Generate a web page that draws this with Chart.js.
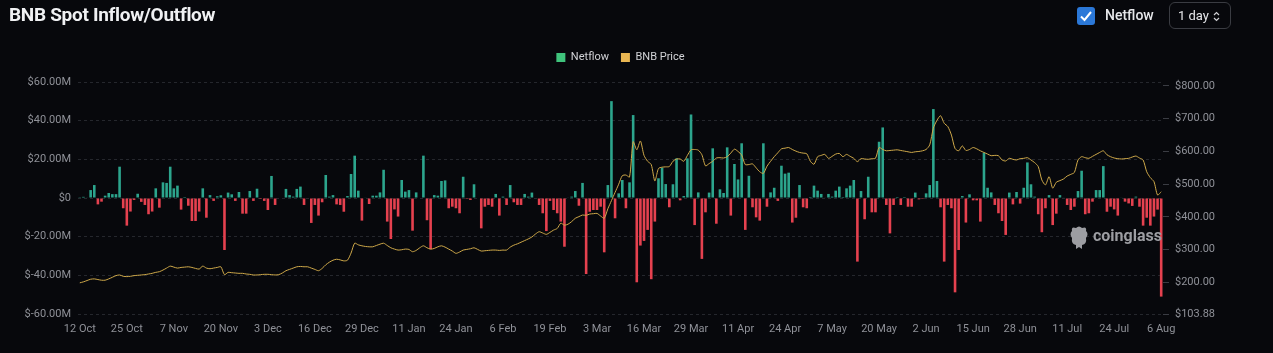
<!DOCTYPE html>
<html>
<head>
<meta charset="utf-8">
<script src="https://cdn.jsdelivr.net/npm/chart.js@4.4.0/dist/chart.umd.min.js"></script>
<style>
  html, body { margin: 0; padding: 0; background: #07080c; }
  body { width: 1273px; height: 353px; position: relative; overflow: hidden; font-family: Roboto, "Noto Sans", sans-serif; }
  #c { position: absolute; left: 0; top: 0; }
  #title { position: absolute; left: 9px; top: 3px; color: #f0f1f3; font: 700 19px Roboto, sans-serif; letter-spacing: -0.3px; }
  #chk { position: absolute; left: 1077px; top: 7px; width: 18px; height: 18px; }
  #nf { position: absolute; left: 1105px; top: 7px; color: #e6e7ea; font: 500 14px Roboto, sans-serif; }
  #sel { position: absolute; left: 1169px; top: 2px; width: 60px; height: 25px; border: 1px solid #3a3c42; border-radius: 6px; box-sizing: content-box; }
  #sel span { position: absolute; left: 8px; top: 5px; color: #e6e7ea; font: 13px Roboto, sans-serif; }
  #sel svg { position: absolute; left: 43px; top: 8px; }
  #wm { position: absolute; left: 1068px; top: 225px; }
  #wm span { position: absolute; left: 25px; top: 1px; color: #9c9da2; font: 700 16px Roboto, sans-serif; }
</style>
</head>
<body>
<canvas id="c" width="1273" height="353"></canvas>
<div id="title">BNB Spot Inflow/Outflow</div>
<div id="chk"><svg width="18" height="18"><rect width="18" height="18" rx="3" fill="#2b78d8"/><path d="M4 9.5 L7.5 13 L14 5" stroke="#fff" stroke-width="2" fill="none"/></svg></div>
<div id="nf">Netflow</div>
<div id="sel"><span>1 day</span><svg width="7" height="11"><path d="M1 4 L3.5 1.5 L6 4 M1 7 L3.5 9.5 L6 7" stroke="#cfd0d4" stroke-width="1.2" fill="none"/></svg></div>
<div id="wm"><svg width="22" height="26"><path d="M4 6 Q3 1 8 3 Q11 0 14 3 Q19 1 18 6 Q21 9 18 13 Q19 19 14 20 L14 24 L11 22 L8 24 L8 20 Q3 19 4 13 Q1 9 4 6 Z" fill="#9c9da2"/></svg><span>coinglass</span></div>
<script>
// daily netflow, millions USD, from 12 Oct
const netflow = [
  0.4, 0.6, 0.3, 4.1, 6.7, -3.3, -1.9, 1.2, 2.6, 2,
  2, 16.2, -5.3, -14.3, -7, -1, 2.2, -2, -3.6, -8.4,
  -7, 5, -5, 8.1, 7.8, 16.2, 5, 6.4, -6, 0.5,
  -4, -11.9, -11.9, -7, 5, -10.2, 1.5, -1.5, 0.9, 1.4,
  -26.9, 2.8, 1.9, -1.5, 3.1, -8.1, -8.1, 3.6, -1.5, 4.8,
  -0.5, -1.5, -6.2, 11.4, -3.6, 0, 0, 4.7, 1.5, 0.7,
  4.7, 5.9, -3.6, 0, -12.9, -3.6, -9.1, -2.2, 11.9, 0.7,
  1.5, -3.3, -3.6, -7.1, 1, 12.4, 21.9, 3.8, -11.7, 0.3,
  -3.1, 1.2, 1.2, 2.9, 14.6, -12.2, -21.2, -5.9, -9.6, 9.3,
  3.3, 4.1, -16.9, 2.9, 0, 21.9, -11.5, -26.5, 1.5, 1.2,
  8.8, 9.1, -5.3, -4.5, -5.3, -7.9, 11, -0.5, -1, 7.1,
  0, -15.7, -4.5, -3.6, -4.5, 2.1, -9.1, 0.7, -3.6, 6.7,
  -2.2, -3.6, -3.6, 2.1, 0.7, 2.8, 0, -3.6, -7.9, -17.1,
  -1.5, -6.2, -7.9, -12.2, -25.2, 0.3, 0.7, 3.6, -4, 7.8,
  -39.3, -7.1, -6.2, -6.2, -4.5, -28.1, 6.7, 50.1, -10.5, 2.4,
  9.3, -5.3, 8.1, 42.9, -43.6, -24.6, -22.2, -16.5, -42, -12.2,
  10.2, 15.7, 7.2, -4.8, 7.1, 20.5, -1.2, 1, 20.5, 43.2,
  -14, 2.9, -31.5, -7.4, 2.8, 25.7, -13.3, 4.5, 2.6, 26.2,
  -9.1, 17.6, 9.6, 28.3, -16.5, 11.5, -4.8, -10, -11.7, 28.3,
  -4.5, 2.9, 5.3, -1.5, 16.7, 12.6, 13.1, -12.7, -10.2, 6.7,
  -4.8, -5.3, 0.5, 6.4, 3.8, 2.1, 0.3, 2.1, 0.7, 3.8,
  5.9, 0.5, 5, 6.4, 9.3, -32.9, 3.6, -11, 11, -7.4,
  -7.4, 29.1, 36.5, -3.6, -18.3, -3.6, 0.5, -3.6, 0.5, -4.5,
  -4.5, 2.8, -0.7, -0.5, 2.4, 6.7, 46, 8.8, -4.8, -32.9,
  -3.6, -5.3, -48.8, -26.9, 1, -12.7, 1.9, -1.2, -1.2, -12.2,
  23.4, 5.3, 2.9, -3.6, -7.9, -11.9, -19.1, 2.8, -3.3, 3.1,
  -2.9, 5.3, 18.4, 7.1, 0.7, -8.4, -17.7, -5.3, 1.5, -14,
  -8.1, 1.5, 0.3, -3.6, -6.2, -4.5, 3.6, 14.1, -8.4, -7.9,
  -1.9, 4.1, 4.1, 16.5, -7.1, -4.5, -5.9, -9.1, 0.3, -1.9,
  -2.8, -4.1, 0.7, -4.5, -14.3, -10.2, -14.3, -9.6, -6, -51
];

// BNB price, USD
const price = [
  199, 202, 206, 210, 211, 209, 207, 207, 211, 216,
  221, 223, 219, 218, 219, 221, 222, 223, 224, 226,
  228, 231, 233, 238, 244, 250, 247, 244, 246, 247,
  248, 246, 243, 241, 250, 244, 242, 244, 246, 248,
  224, 231, 230, 229, 228, 228, 226, 225, 223, 223,
  224, 225, 225, 224, 223, 224, 229, 236, 240, 244,
  248, 249, 248, 248, 244, 240, 236, 243, 254, 262,
  268, 271, 269, 266, 268, 290, 320, 315, 312, 310,
  309, 309, 313, 317, 320, 313, 306, 302, 299, 300,
  302, 301, 294, 298, 306, 312, 306, 302, 304, 309,
  312, 308, 302, 296, 289, 293, 299, 301, 303, 306,
  301, 296, 297, 298, 299, 299, 298, 299, 299, 308,
  314, 318, 323, 328, 333, 339, 348, 355, 351, 347,
  353, 360, 365, 381, 375, 378, 386, 396, 401, 406,
  405, 409, 410, 411, 403, 396, 425, 450, 475, 500,
  526, 528, 522, 630, 605, 632, 588, 570, 560, 510,
  548, 552, 553, 554, 570, 577, 577, 570, 588, 605,
  606, 604, 590, 556, 563, 570, 580, 581, 580, 584,
  595, 607, 600, 589, 560, 560, 562, 550, 538, 533,
  555, 570, 584, 596, 608, 610, 612, 606, 601, 597,
  595, 593, 570, 561, 584, 588, 591, 579, 585, 592,
  594, 584, 591, 585, 579, 569, 578, 577, 576, 578,
  579, 612, 606, 602, 603, 604, 605, 603, 601, 599,
  597, 599, 600, 602, 606, 620, 671, 695, 709, 686,
  676, 650, 609, 602, 617, 603, 606, 612, 608, 602,
  597, 592, 587, 588, 587, 574, 571, 579, 576, 574,
  578, 579, 581, 574, 566, 554, 513, 498, 523, 488,
  506, 511, 516, 525, 530, 536, 574, 584, 581, 579,
  585, 591, 597, 602, 590, 584, 580, 578, 577, 578,
  579, 583, 586, 580, 574, 538, 520, 508, 467, 477
];

const priceTicks = [103.88, 200, 300, 400, 500, 600, 700, 800];
const monthNames = ["Jan", "Feb", "Mar", "Apr", "May", "Jun", "Jul", "Aug", "Sep", "Oct", "Nov", "Dec"];

let labels = [];
for (let i = 0; i < netflow.length; i++) {
  let d = new Date(2023, 9, 12 + i);
  labels.push(d.getDate() + " " + monthNames[d.getMonth()]);
}

const green = "#2ca58d";
const red = "#e5414f";
const gold = "#cfa94a";
const tickColor = "#8f9198";
const gridColor = "#25272d";

// extra space under the legend
const legendGap = {
  id: 'legendGap',
  beforeInit(chart) {
    const fit = chart.legend.fit;
    chart.legend.fit = function() {
      fit.call(this);
      this.height += 9;
    };
  }
};

let data = {
  labels: labels,
  datasets: [
    {
      type: 'line',
      label: 'BNB Price',
      data: price,
      yAxisID: 'yPrice',
      borderColor: gold,
      backgroundColor: gold,
      borderWidth: 1,
      pointRadius: 0,
      tension: 0.25,
      order: 0
    },
    {
      type: 'bar',
      label: 'Netflow',
      data: netflow,
      yAxisID: 'yFlow',
      backgroundColor: netflow.map(v => v >= 0 ? green : red),
      categoryPercentage: 0.8,
      barPercentage: 0.9,
      order: 1
    }
  ]
};

const config = {
  data: data,
  plugins: [legendGap],
  options: {
    responsive: false,
    animation: false,
    devicePixelRatio: 1,
    layout: { padding: { top: 40, left: 0, right: 32, bottom: 0 } },
    plugins: {
      tooltip: { enabled: false },
      legend: {
        position: 'top',
        labels: {
          boxWidth: 9,
          boxHeight: 9,
          padding: 12,
          color: '#d2d3d7',
          font: { family: 'Roboto', size: 11 },
          generateLabels: function(chart) {
            return [
              { text: 'Netflow', fillStyle: '#3fc37c', strokeStyle: '#3fc37c', lineWidth: 0, datasetIndex: 1, fontColor: '#d2d3d7' },
              { text: 'BNB Price', fillStyle: '#e9b652', strokeStyle: '#e9b652', lineWidth: 0, datasetIndex: 0, fontColor: '#d2d3d7' }
            ];
          }
        }
      }
    },
    scales: {
      x: {
        grid: { display: false },
        border: { display: false },
        afterFit: s => { s.height = 39; },
        ticks: {
          autoSkip: false,
          maxRotation: 0,
          padding: 1,
          color: tickColor,
          font: { family: 'Roboto', size: 11 },
          callback: function(v, i) { return i % 13 === 0 ? this.getLabelForValue(v) : null; }
        }
      },
      yFlow: {
        position: 'left',
        min: -60,
        max: 60,
        afterFit: s => { s.width = 78; },
        grid: { color: gridColor, drawTicks: false },
        border: { display: false, dash: [3, 3] },
        ticks: {
          stepSize: 20,
          padding: 7,
          color: tickColor,
          font: { family: 'Roboto', size: 11 },
          callback: v => v === 0 ? '$0' : '$' + v.toFixed(2) + 'M'
        }
      },
      yPrice: {
        position: 'right',
        min: 103.88,
        max: 812,
        afterFit: s => { s.width = 78; },
        afterBuildTicks: s => { s.ticks = priceTicks.map(v => ({ value: v })); },
        grid: { drawOnChartArea: false, color: '#3a3c43', tickLength: 6 },
        border: { display: false },
        ticks: {
          padding: 6,
          color: tickColor,
          font: { family: 'Roboto', size: 11 },
          callback: v => '$' + v.toFixed(2)
        }
      }
    }
  }
};

new Chart(document.getElementById('c'), config);
</script>
</body>
</html>
